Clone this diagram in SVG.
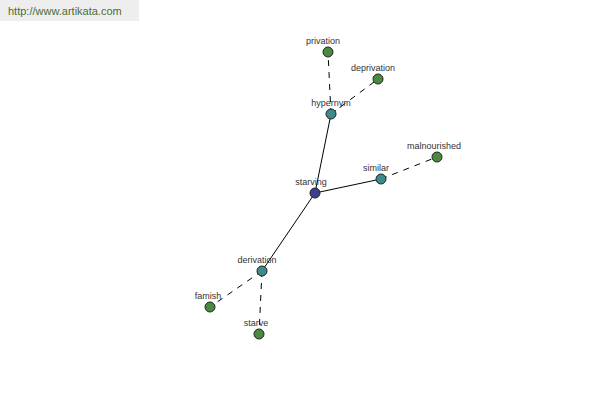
<svg xmlns="http://www.w3.org/2000/svg" width="600" height="400" viewBox="0 0 600 400">
<style>
.lbl{font-family:"Liberation Sans",Arial,sans-serif;font-size:9px;fill:#333;text-anchor:middle}
.n{stroke:#222;stroke-width:1}
.root{fill:#3f3f8f}
.mid{fill:#3d8b8b}
.leaf{fill:#4a8a40}
.solid{stroke:#000;stroke-width:1;fill:none}
.dash{stroke:#000;stroke-width:1;fill:none;stroke-dasharray:6,6}
</style>
<rect x="0" y="0" width="139" height="21" fill="#eeeeee"/>
<text x="8" y="15" font-family="'Liberation Sans',Arial,sans-serif" font-size="11" fill="#4d6b3a">http://www.artikata.com</text>
<g id="connectors">
<line class="solid" x1="315" y1="193" x2="331" y2="114"/>
<line class="solid" x1="315" y1="193" x2="381" y2="179"/>
<line class="solid" x1="315" y1="193" x2="262" y2="271"/>
<line class="dash" x1="331" y1="114" x2="328" y2="52"/>
<line class="dash" x1="331" y1="114" x2="378" y2="79"/>
<line class="dash" x1="381" y1="179" x2="437" y2="157"/>
<line class="dash" x1="262" y1="271" x2="210" y2="307"/>
<line class="dash" x1="262" y1="271" x2="259" y2="334"/>
</g>
<g id="starving"><circle class="n root" cx="315" cy="193" r="5"/><text class="lbl" x="311" y="185">starving</text></g>
<g id="hypernym"><circle class="n mid" cx="331" cy="114" r="5"/><text class="lbl" x="331" y="106">hypernym</text></g>
<g id="privation"><circle class="n leaf" cx="328" cy="52" r="5"/><text class="lbl" x="323" y="44">privation</text></g>
<g id="deprivation"><circle class="n leaf" cx="378" cy="79" r="5"/><text class="lbl" x="373" y="71">deprivation</text></g>
<g id="similar"><circle class="n mid" cx="381" cy="179" r="5"/><text class="lbl" x="376" y="171">similar</text></g>
<g id="malnourished"><circle class="n leaf" cx="437" cy="157" r="5"/><text class="lbl" x="434" y="149">malnourished</text></g>
<g id="derivation"><circle class="n mid" cx="262" cy="271" r="5"/><text class="lbl" x="257" y="263">derivation</text></g>
<g id="famish"><circle class="n leaf" cx="210" cy="307" r="5"/><text class="lbl" x="208" y="299">famish</text></g>
<g id="starve"><circle class="n leaf" cx="259" cy="334" r="5"/><text class="lbl" x="256" y="326">starve</text></g>
</svg>
